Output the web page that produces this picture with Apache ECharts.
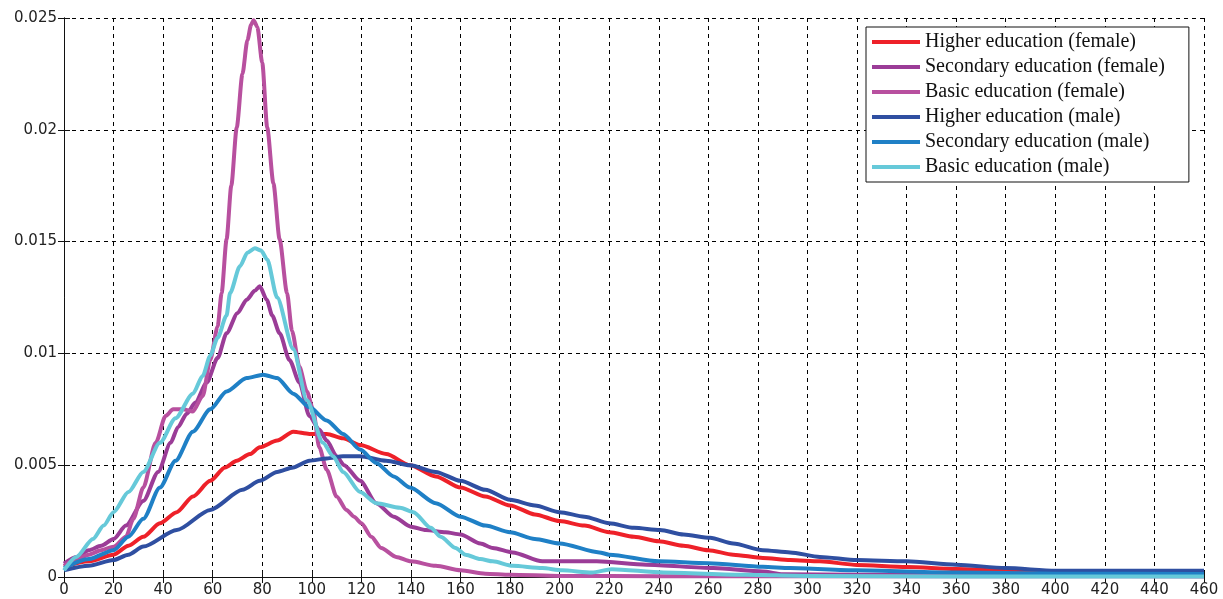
<!DOCTYPE html>
<html>
<head>
<meta charset="utf-8">
<script src="https://cdn.jsdelivr.net/npm/echarts@6/dist/echarts.min.js"></script>
<style>
  html, body { margin: 0; padding: 0; background: #fff; }
  #chart { width: 1223px; height: 599px; }
</style>
</head>
<body>
<div id="chart"></div>
<script>
// Density curves by education level and sex
const seriesNames = [
  'Higher education (female)',
  'Secondary education (female)',
  'Basic education (female)',
  'Higher education (male)',
  'Secondary education (male)',
  'Basic education (male)'
];

const higherFemaleX = [0, 10, 20, 26, 32, 38.7, 45.5, 52, 59, 65, 69.7, 75, 79, 86, 92.5, 99, 106, 112.6, 119.5, 130, 139.6, 150, 160, 170, 180, 190, 200, 210, 220, 230, 240, 250, 260, 270, 282, 293, 305, 320, 340, 360, 380, 400, 420, 460];
const higherFemaleY = [0.00046, 0.0007, 0.0010, 0.0014, 0.0018, 0.0024, 0.0029, 0.0036, 0.0043, 0.0049, 0.0052, 0.0055, 0.0058, 0.0061, 0.0065, 0.0064, 0.0064, 0.0062, 0.0059, 0.0055, 0.0050, 0.0045, 0.0040, 0.0036, 0.0032, 0.0028, 0.0025, 0.0023, 0.0020, 0.0018, 0.0016, 0.0014, 0.0012, 0.0010, 0.00085, 0.00076, 0.0007, 0.00054, 0.00045, 0.00036, 0.00028, 0.0002, 0.00017, 0.00015];

const secondaryFemaleX = [0, 5, 10, 15, 20, 25, 32, 38, 43, 46, 49.5, 53, 57.6, 62, 65.6, 70, 73.7, 77, 79, 81.8, 84, 87, 91, 95, 99, 103, 106, 110, 113, 119.5, 126, 133, 140, 146, 154, 160, 168, 173, 181, 193, 200, 215, 235, 262, 282, 290, 320, 360, 400, 460];
const secondaryFemaleY = [0.0006, 0.0009, 0.0012, 0.0014, 0.0017, 0.0023, 0.0034, 0.0047, 0.0060, 0.0067, 0.0073, 0.0078, 0.0087, 0.0098, 0.0109, 0.0118, 0.0124, 0.0128, 0.0130, 0.0124, 0.0117, 0.0109, 0.0097, 0.0087, 0.0072, 0.0066, 0.0061, 0.0054, 0.0050, 0.0043, 0.0033, 0.0027, 0.00225, 0.0021, 0.0020, 0.0019, 0.0015, 0.0013, 0.0011, 0.0007, 0.0007, 0.0007, 0.00055, 0.0004, 0.00025, 0.00012, 0.0001, 0.0001, 0.00005, 0.00003];

const basicFemaleX = [0, 5, 10, 15, 20, 25, 28, 32, 37, 41, 44, 48, 52, 56, 59, 62, 63.6, 65.6, 67.5, 69.7, 72, 74, 75.5, 76.5, 78, 80, 82, 84.5, 87, 90, 92, 95, 98, 100.5, 103, 106, 110, 114, 117, 120, 124, 128, 134, 140, 150, 160, 170, 180, 200, 240, 280, 320, 360, 400, 460];
const basicFemaleY = [0.0005, 0.0008, 0.0010, 0.0012, 0.00135, 0.0018, 0.0026, 0.0040, 0.0060, 0.0072, 0.0075, 0.0075, 0.0074, 0.0081, 0.0097, 0.0112, 0.0127, 0.0151, 0.0175, 0.0201, 0.0225, 0.0240, 0.0247, 0.0249, 0.0246, 0.0230, 0.0201, 0.0176, 0.0151, 0.0127, 0.0110, 0.0094, 0.0083, 0.0075, 0.0058, 0.0048, 0.0036, 0.0030, 0.0027, 0.0024, 0.0018, 0.0013, 0.0009, 0.0007, 0.0005, 0.0003, 0.00015, 0.0001, 0.00005, 0.00003, 0.00003, 0.00003, 0.00003, 0.00003, 0.00003];

const higherMaleX = [0, 10, 20, 26, 32, 45.5, 59, 72, 79, 86, 92.5, 99, 106, 112.6, 119.5, 130, 139.6, 150, 160, 170, 180, 190, 200, 210, 220, 230, 240.5, 250, 260.7, 270, 282, 293, 305, 320, 340, 360, 380, 400, 430, 460];
const higherMaleY = [0.0003, 0.0005, 0.00076, 0.0010, 0.00136, 0.0021, 0.0030, 0.0039, 0.0043, 0.0047, 0.0049, 0.0052, 0.0053, 0.0054, 0.0054, 0.0052, 0.0050, 0.0047, 0.0043, 0.0039, 0.00345, 0.0032, 0.0029, 0.0027, 0.0024, 0.0022, 0.0021, 0.0019, 0.00175, 0.0015, 0.0012, 0.0011, 0.0009, 0.00076, 0.0007, 0.00055, 0.0004, 0.00028, 0.00028, 0.00028];

const secondaryMaleX = [0, 10, 20, 26, 32, 38.7, 45, 52, 59, 65.6, 73.7, 80.4, 86, 92.5, 99, 106, 112.6, 119.5, 126, 133, 139.6, 150, 160, 170, 180, 190, 200, 216, 220, 240, 260, 282, 293, 320, 360, 400, 460];
const secondaryMaleY = [0.0004, 0.0008, 0.0012, 0.0018, 0.0026, 0.0040, 0.0052, 0.0065, 0.0075, 0.0083, 0.0089, 0.00905, 0.0089, 0.0082, 0.0076, 0.0070, 0.0064, 0.0057, 0.0051, 0.0045, 0.0040, 0.0033, 0.0027, 0.0023, 0.0020, 0.0017, 0.0015, 0.0011, 0.0010, 0.0007, 0.00062, 0.00046, 0.0004, 0.0003, 0.0002, 0.00015, 0.00013];

const basicMaleX = [0, 5, 11.7, 16, 20, 26, 32, 38.7, 45, 52, 56, 59, 62, 65.6, 67, 71, 74, 77, 79.5, 82, 86, 92.5, 98, 104.5, 108.6, 112.6, 119.5, 126, 135.6, 141, 148, 152, 158, 162, 168, 173, 181, 193, 201, 213, 221, 242, 275, 300, 360, 460];
const basicMaleY = [0.0003, 0.0009, 0.0017, 0.0023, 0.0029, 0.0038, 0.0047, 0.0060, 0.0071, 0.0082, 0.0090, 0.0099, 0.0107, 0.0117, 0.0127, 0.0139, 0.0145, 0.0147, 0.0146, 0.0142, 0.0125, 0.0102, 0.0079, 0.0060, 0.0054, 0.0047, 0.0038, 0.0033, 0.0031, 0.0029, 0.0022, 0.0018, 0.0013, 0.0010, 0.0008, 0.0007, 0.0005, 0.0004, 0.0003, 0.0002, 0.00035, 0.0002, 0.0001, 0.00005, 0.00002, 0.00002];

const xTickValues = [0, 20, 40, 60, 80, 100, 120, 140, 160, 180, 200, 220, 240, 260, 280, 300, 320, 340, 360, 380, 400, 420, 440, 460];
const yTickValues = [0, 0.005, 0.01, 0.015, 0.02, 0.025];

const seriesX = [higherFemaleX, secondaryFemaleX, basicFemaleX, higherMaleX, secondaryMaleX, basicMaleX];
const seriesY = [higherFemaleY, secondaryFemaleY, basicFemaleY, higherMaleY, secondaryMaleY, basicMaleY];
const colors = ['#ee2129', '#9b3c97', '#b8509f', '#2f4fa1', '#1f80c6', '#66c9d9'];

const pairs = (xs, ys) => xs.map((x, i) => [x, ys[i]]);

const tickLabel = { fontFamily: 'DejaVu Sans', fontSize: 15, color: '#222' };
const frameLine = { show: true, lineStyle: { color: '#111', width: 1 } };
const innerTick = { show: true, inside: true, length: 6, lineStyle: { color: '#111', width: 1 } };
const dashed = { show: true, lineStyle: { color: '#000', width: 1, type: [4, 4] } };

const chart = echarts.init(document.getElementById('chart'), null, { renderer: 'canvas' });
chart.setOption({
  backgroundColor: '#fff',
  animation: false,
  color: colors,
  grid: { left: 64, right: 19, top: 18, bottom: 22, containLabel: false },
  xAxis: [
    {
      type: 'value', min: xTickValues[0], max: xTickValues[xTickValues.length - 1], interval: 20,
      axisLine: frameLine, axisTick: innerTick,
      axisLabel: Object.assign({ margin: 6 }, tickLabel),
      splitLine: dashed
    },
    {
      type: 'value', position: 'top', min: 0, max: 460, interval: 20,
      axisLine: frameLine, axisTick: innerTick, axisLabel: { show: false }, splitLine: { show: false }
    }
  ],
  yAxis: [
    {
      type: 'value', min: yTickValues[0], max: yTickValues[yTickValues.length - 1], interval: 0.005,
      axisLine: frameLine, axisTick: innerTick,
      axisLabel: Object.assign({ margin: 7, formatter: v => String(+v.toFixed(3)) }, tickLabel),
      splitLine: dashed
    },
    {
      type: 'value', position: 'right', min: 0, max: 0.025, interval: 0.005,
      axisLine: frameLine, axisTick: innerTick, axisLabel: { show: false }, splitLine: { show: false }
    }
  ],
  legend: {
    orient: 'vertical',
    left: 866, top: 27,
    data: seriesNames,
    icon: 'rect',
    itemWidth: 48, itemHeight: 4, itemGap: 5,
    padding: [5, 24, 5, 6],
    backgroundColor: '#fff',
    borderColor: '#111', borderWidth: 1, borderRadius: 0,
    textStyle: { fontFamily: 'Liberation Serif', fontSize: 20, color: '#111', lineHeight: 20 }
  },
  series: seriesNames.map((name, i) => ({
    name, type: 'line',
    data: pairs(seriesX[i], seriesY[i]),
    showSymbol: false, symbol: 'none',
    smooth: 0.25, smoothMonotone: 'x',
    lineStyle: { width: 4, color: colors[i] },
    itemStyle: { color: colors[i] }
  }))
});
</script>
</body>
</html>
